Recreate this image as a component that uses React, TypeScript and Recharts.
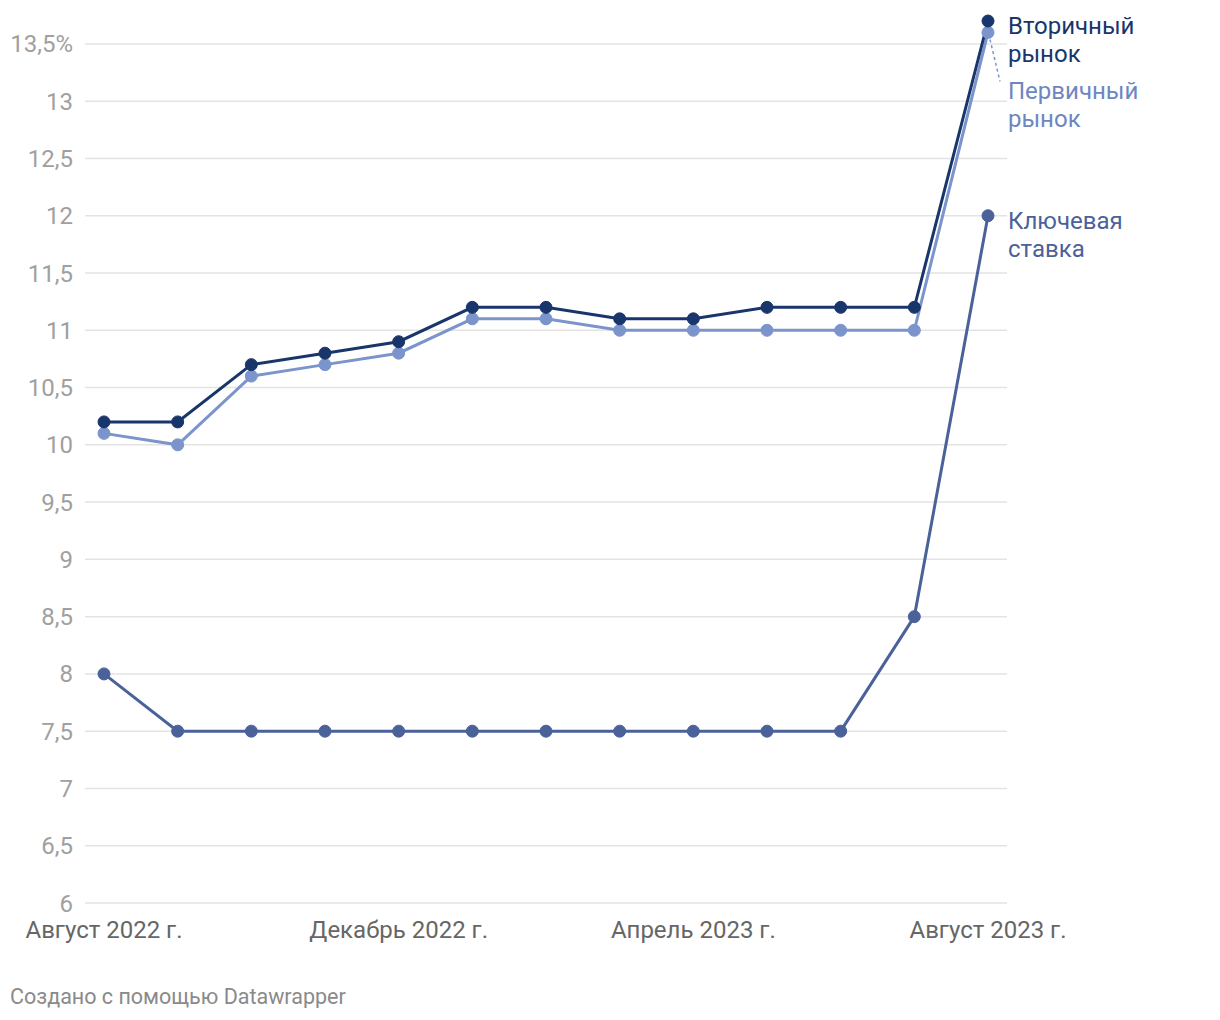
import { LineChart, Line, XAxis, YAxis, CartesianGrid } from "recharts";

const months = [
  "Август 2022 г.",
  "Сентябрь 2022 г.",
  "Октябрь 2022 г.",
  "Ноябрь 2022 г.",
  "Декабрь 2022 г.",
  "Январь 2023 г.",
  "Февраль 2023 г.",
  "Март 2023 г.",
  "Апрель 2023 г.",
  "Май 2023 г.",
  "Июнь 2023 г.",
  "Июль 2023 г.",
  "Август 2023 г.",
];
const secondary = [10.2, 10.2, 10.7, 10.8, 10.9, 11.2, 11.2, 11.1, 11.1, 11.2, 11.2, 11.2, 13.7];
const primary = [10.1, 10.0, 10.6, 10.7, 10.8, 11.1, 11.1, 11.0, 11.0, 11.0, 11.0, 11.0, 13.6];
const keyRate = [8, 7.5, 7.5, 7.5, 7.5, 7.5, 7.5, 7.5, 7.5, 7.5, 7.5, 8.5, 12];
const yTicks = [6, 6.5, 7, 7.5, 8, 8.5, 9, 9.5, 10, 10.5, 11, 11.5, 12, 12.5, 13, 13.5];

const data = months.map((m, i) => ({
  month: m,
  secondary: secondary[i],
  primary: primary[i],
  keyRate: keyRate[i],
}));

const FONT = "Roboto, 'Noto Sans', sans-serif";
const DARK = "#18366b";
const LIGHT = "#7b94cc";
const MID = "#4a6299";

const endLabel =
  (lines: string[], color: string, dy: number, connector = false) =>
  (props: any) => {
    const { x, y, index } = props;
    if (index !== months.length - 1) return null;
    return (
      <g>
        {connector && (
          <line
            x1={x + 2}
            y1={y + 7}
            x2={x + 12}
            y2={y + 49}
            stroke={LIGHT}
            strokeWidth={1.5}
            strokeDasharray="3 3"
          />
        )}
        <text x={x + 20} y={y + dy} fill={color} fontSize={24} fontFamily={FONT}>
          {lines.map((l, k) => (
            <tspan key={k} x={x + 20} dy={k === 0 ? 0 : 28}>
              {l}
            </tspan>
          ))}
        </text>
      </g>
    );
  };

const fmtY = (v: number) => {
  const s = String(v).replace(".", ",");
  return v === 13.5 ? s + "%" : s;
};

export default function App() {
  return (
    <div style={{ position: "relative", width: 1204, height: 1000, fontFamily: FONT }}>
      <LineChart
        width={1204}
        height={960}
        data={data}
        margin={{ top: 13, right: 205, bottom: 25, left: 0 }}
      >
        <CartesianGrid vertical={false} syncWithTicks stroke="#e3e3e3" strokeWidth={1.5} />
        <XAxis
          dataKey="month"
          interval={3}
          axisLine={false}
          tickLine={false}
          tickSize={0}
          tickMargin={18}
          height={40}
          padding={{ left: 19, right: 19 }}
          tick={{ fill: "#666", fontSize: 24, fontFamily: FONT }}
        />
        <YAxis
          domain={[6, 13.7]}
          ticks={yTicks}
          interval={0}
          width={77}
          axisLine={false}
          tickLine={false}
          tickSize={0}
          tickMargin={12}
          tickFormatter={fmtY}
          tick={{ fill: "#a0a0a0", fontSize: 24, fontFamily: FONT }}
        />
        <Line
          dataKey="keyRate"
          stroke={MID}
          strokeWidth={3}
          dot={{ r: 6, fill: MID, stroke: MID, strokeWidth: 1 }}
          isAnimationActive={false}
          label={endLabel(["Ключевая", "ставка"], MID, 13)}
        />
        <Line
          dataKey="primary"
          stroke={LIGHT}
          strokeWidth={3}
          dot={{ r: 6, fill: LIGHT, stroke: LIGHT, strokeWidth: 1 }}
          isAnimationActive={false}
          label={endLabel(["Первичный", "рынок"], "#6d86c2", 67, true)}
        />
        <Line
          dataKey="secondary"
          stroke={DARK}
          strokeWidth={3}
          dot={{ r: 6, fill: DARK, stroke: DARK, strokeWidth: 1 }}
          isAnimationActive={false}
          label={endLabel(["Вторичный", "рынок"], DARK, 13)}
        />
      </LineChart>
      <div
        style={{
          position: "absolute",
          left: 2,
          top: 976,
          fontSize: 21.5,
          color: "#8a8a8a",
          fontFamily: FONT,
        }}
      >
        Создано с помощью Datawrapper
      </div>
    </div>
  );
}
